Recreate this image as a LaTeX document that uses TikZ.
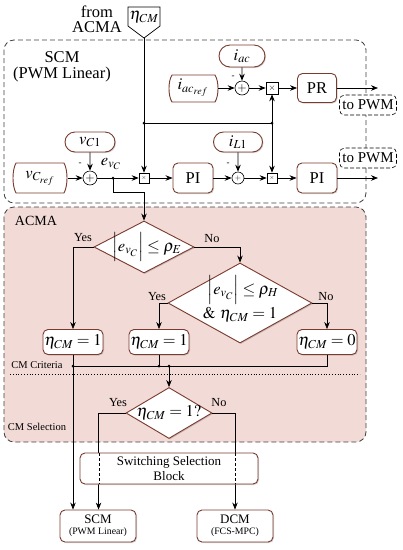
\documentclass[tikz,border=0pt]{standalone}
\usepackage{mathptmx}
\usepackage{fontspec}
\setmainfont{Liberation Serif}
\usetikzlibrary{arrows.meta,shapes.geometric,shapes.misc,calc,shadows}
\definecolor{brn}{HTML}{7A3B2E}
\definecolor{pinkbg}{HTML}{F2DAD6}
\begin{document}
\begin{tikzpicture}[x=1pt,y=-1pt,
 big/.style={font=\fontsize{16.5}{18}\selectfont},
 shd/.style={drop shadow={shadow xshift=1pt,shadow yshift=-1pt,opacity=0.3,fill=black!60}},
 blk/.style={draw=brn,line width=0.9pt,rounded corners=5pt,fill=white,inner sep=0pt,align=center,shd},
 pill/.style={rounded rectangle,draw=brn,line width=0.9pt,fill=white,inner sep=0pt,shd,big},
 sumn/.style={circle,draw=black,line width=0.6pt,fill=white,inner sep=0pt,minimum size=14pt,font=\fontsize{12}{12}\selectfont},
 mul/.style={rectangle,draw=black,line width=0.6pt,fill=white,inner sep=0pt,minimum size=12pt,font=\fontsize{9}{9}\selectfont},
 arr/.style={-{Stealth[length=7pt,width=5.5pt]},line width=0.7pt},
 ln/.style={line width=0.7pt},
 jdot/.style={circle,fill=black,inner sep=0pt,minimum size=3pt},
 lbl/.style={font=\fontsize{12.3}{13}\selectfont},
 dia/.style={diamond,draw=brn,line width=0.9pt,fill=white,inner sep=0pt,shd},
 pwm/.style={draw=black,dash pattern=on 4pt off 2pt,line width=0.6pt,rounded corners=5pt,fill=white,minimum width=57pt,minimum height=20pt,inner sep=0pt,font=\fontsize{15}{16}\selectfont},
 region/.style={draw=black!75,dash pattern=on 5pt off 3pt,line width=0.8pt,rounded corners=10pt},
]
\useasboundingbox (0,0) rectangle (403,550);

% regions
\draw[region] (4,40) rectangle (366,203);
\draw[region,fill=pinkbg] (4,207) rectangle (366,442);

% top input
\node[big,align=center] (from) at (97,19) {from\\[-3pt]ACMA};
\draw[line width=0.7pt,fill=white] (128,7) -- (160,7) -- (160,26) -- (144,38) -- (128,26) -- cycle;
\node[big] (eta) at (144,17) {$\eta_{CM}$};
\coordinate (etatip) at (144,38);

\node[big,align=center] (scmlbl) at (62,67) {SCM\\[-2pt](PWM Linear)};

% row 1
\node[pill,minimum width=46pt,minimum height=22pt] (iac) at (242,56) {$i_{ac}$};
\draw[brn,line width=0.9pt,fill=white] (172,75) -- (215,75) .. controls (219,81) and (219,96) .. (215,102) -- (172,102) .. controls (168,96) and (168,81) .. (172,75) -- cycle;
\node[big,minimum width=50pt,minimum height=27pt,inner sep=0pt] (iacref) at (193,88) {$i_{ac_{ref}}$};
\node[sumn] (sum1) at (242,88) {$+$};
\node[mul] (mul1) at (272,88) {$\times$};
\node[blk,big,minimum width=39pt,minimum height=29pt] (pr) at (317,88) {PR};
\coordinate (out1) at (378,88);
\node[font=\fontsize{9}{9}\selectfont] (m1) at (233,77) {-};

\coordinate (j1) at (144,123);
\coordinate (j2) at (272,123);

% row 2
\node[pill,minimum width=50pt,minimum height=20pt] (vc1) at (90,142) {$v_{C1}$};
\draw[brn,line width=0.9pt,fill=white] (16,163) -- (64,163) .. controls (68,170) and (68,186) .. (64,193) -- (16,193) .. controls (12,186) and (12,170) .. (16,163) -- cycle;
\node[big,minimum width=55pt,minimum height=30pt,inner sep=0pt] (vcref) at (40,178) {$v_{C_{ref}}$};
\node[sumn] (sum2) at (90,178) {$+$};
\node[font=\fontsize{9}{9}\selectfont] (m2) at (80,164) {-};
\node[big] (evc) at (111,164) {$e_{v_C}$};
\coordinate (j3) at (113,178);
\node[mul,minimum size=10pt,font=\fontsize{6}{6}\selectfont] (mul2) at (144,178) {$\times$};
\node[blk,big,minimum width=40pt,minimum height=30pt] (pi1) at (193,178) {PI};
\node[pill,minimum width=49pt,minimum height=20pt] (il1) at (238,142) {$i_{L1}$};
\node[sumn,minimum size=12pt,font=\fontsize{8}{8}\selectfont] (sum3) at (238,178) {$+$};
\node[font=\fontsize{9}{9}\selectfont] (m3) at (228,164) {-};
\node[mul,minimum size=10pt,font=\fontsize{6}{6}\selectfont] (mul3) at (272,178) {$\times$};
\node[blk,big,minimum width=40pt,minimum height=30pt] (pi2) at (317,178) {PI};
\coordinate (out2) at (378,178);
\coordinate (j4) at (113,192);
\coordinate (j5) at (144,192);

% row 1 connectors
\draw[arr] (iac) -- (sum1);
\draw[arr] (iacref.east) -- (sum1.west);
\draw[arr] (sum1) -- (mul1);
\draw[arr] (mul1) -- (pr);
\draw[arr] (pr.east) -- (out1);
\draw[arr] (etatip) -- (mul2.north);
\draw[ln] (j1) -- (j2);
\draw[arr] (j2) -- (mul1.south);
\draw[arr] (j2) -- (mul3.north);
\node[jdot] at (j1) {};
\node[jdot] at (j2) {};

% row 2 connectors
\draw[arr] (vc1) -- (sum2);
\draw[arr] (vcref.east) -- (sum2.west);
\draw[arr] (sum2) -- (mul2);
\draw[arr] (mul2) -- (pi1);
\draw[arr] (pi1) -- (sum3);
\draw[arr] (il1) -- (sum3);
\draw[arr] (sum3) -- (mul3);
\draw[arr] (mul3) -- (pi2);
\draw[arr] (pi2.east) -- (out2);
\node[jdot] at (j3) {};

\node[pwm] (pwm1) at (368,105) {to PWM};
\node[pwm] (pwm2) at (368,158) {to PWM};

% ACMA
\node[font=\fontsize{14}{15}\selectfont] (acmalbl) at (36,221) {ACMA};
\node[dia,minimum width=100pt,minimum height=52pt] (d1) at (144,247) {};
\node[big,inner sep=0pt] (d1t) at (147,247) {$\Bigl|e_{v_C}\Bigr|\le\rho_E$};
\draw[arr] (j3) -- (j4) -- (j5) -- (d1.north);

\node[dia,minimum width=144pt,minimum height=80pt] (d2) at (240,303) {};
\node[big,inner sep=0pt] (d2a) at (243,290) {$\Bigl|e_{v_C}\Bigr|\le\rho_H$};
\node[big,inner sep=0pt] (d2b) at (240,315) {$\&\ \eta_{CM}=1$};

\node[blk,big,minimum width=60pt,minimum height=25pt] (b1) at (73,342) {$\eta_{CM}=1$};
\node[blk,big,minimum width=60pt,minimum height=25pt] (b2) at (159,342) {$\eta_{CM}=1$};
\node[blk,big,minimum width=60pt,minimum height=25pt] (b3) at (327,342) {$\eta_{CM}=0$};

\node[lbl] (y1) at (83,238) {Yes};
\node[lbl] (n1) at (212,239) {No};
\node[lbl] (y2) at (157,297) {Yes};
\node[lbl] (n2) at (326,297) {No};

\draw[arr] (d1.west) -| (b1.north);
\draw[arr] (d1.east) -| (d2.north);
\draw[arr] (d2.west) -| (b2.north);
\draw[arr] (d2.east) -| (b3.north);

\coordinate (k1) at (73,366);
\coordinate (k2) at (159,366);
\coordinate (k3) at (169,366);
\coordinate (k4) at (327,366);
\draw[ln] (b2.south) -- (k2);
\draw[ln] (b3.south) -- (k4) -- (k1);

\node[font=\fontsize{10.5}{11}\selectfont] (cmc) at (37,365) {CM Criteria};
\draw[dotted,line width=0.8pt] (10,374) -- (360,374);
\node[font=\fontsize{10.5}{11}\selectfont] (cms) at (37,427) {CM Selection};

\node[dia,minimum width=86pt,minimum height=51pt] (d3) at (169,413) {};
\node[big] (d3t) at (169,413) {$\eta_{CM}=1?$};
\draw[arr] (k3) -- (d3.north);
\node[lbl] (y3) at (118,403) {Yes};
\node[lbl] (n3) at (219,403) {No};

% bottom
\node[blk,minimum width=76pt,minimum height=32pt,font=\fontsize{13}{13}\selectfont] (scm) at (98,526) {SCM\\[-2pt]{\fontsize{9.8}{10}\selectfont (PWM Linear)}};
\node[blk,minimum width=76pt,minimum height=32pt,font=\fontsize{13}{13}\selectfont] (dcm) at (235,526) {DCM\\[-2pt]{\fontsize{9.8}{10}\selectfont (FCS-MPC)}};

\draw[arr] (b1.south) -- (b1.south |- scm.north);
\draw[arr] (d3.west) -| ($(scm.north west)+(39,0)$);
\draw[arr] (d3.east) -| (dcm.north);
\node[jdot] at (k1) {};
\node[jdot] at (k2) {};
\node[jdot] at (k3) {};

\node[blk,minimum width=178pt,minimum height=31pt,font=\fontsize{13}{15}\selectfont] (ssb) at (169,468.5) {Switching Selection\\Block};
\draw[line width=0.7pt,dash pattern=on 3pt off 2pt] (99,453) -- (99,484);
\draw[line width=0.7pt,dash pattern=on 3pt off 2pt] (235,453) -- (235,484);
\end{tikzpicture}
\end{document}
